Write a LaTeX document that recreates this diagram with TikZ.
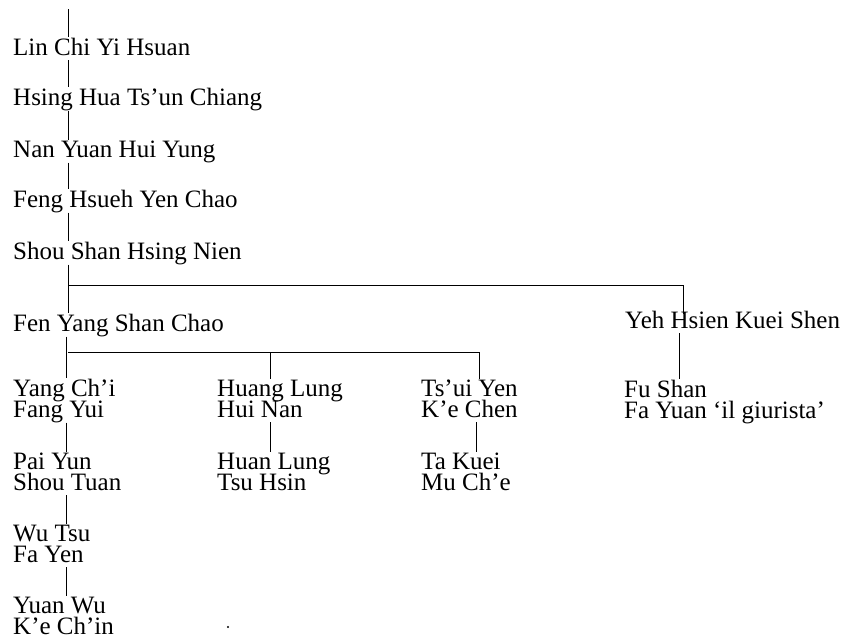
\documentclass[tikz,border=0pt]{standalone}
\usepackage{fontspec}
\setmainfont{Liberation Serif}
\newcommand\rowtext[1]{\hbox{\vrule width0pt height15.5pt depth5pt\relax #1}}
\newcommand\twolines[2]{\vtop{\baselineskip=21pt\lineskiplimit=-100pt\rowtext{#1}\rowtext{#2}}}
\begin{document}
\begin{tikzpicture}[x=1pt,y=-1pt,
  lbl/.style={anchor=base west, inner sep=0pt, font=\fontsize{25}{21}\selectfont},
  conn/.style={line width=0.9pt, black}]
\useasboundingbox (0,0) rectangle (847,640);
% names
\node[lbl] (lin)   at (13,55)  {\rowtext{Lin Chi Yi Hsuan}};
\node[lbl] (hsing) at (13,105) {\rowtext{Hsing Hua Ts’un Chiang}};
\node[lbl] (nan)   at (13,157) {\rowtext{Nan Yuan Hui Yung}};
\node[lbl] (feng)  at (13,207) {\rowtext{Feng Hsueh Yen Chao}};
\node[lbl] (shou)  at (13,259) {\rowtext{Shou Shan Hsing Nien}};
\node[lbl] (fen)   at (13,331) {\rowtext{Fen Yang Shan Chao}};
\node[lbl] (yeh)   at (625,328) {\rowtext{Yeh Hsien Kuei Shen}};
\node[lbl] (yang)  at (13,396)  {\twolines{Yang Ch’i}{Fang Yui}};
\node[lbl] (huang) at (217,396) {\twolines{Huang Lung}{Hui Nan}};
\node[lbl] (tsui)  at (421,396) {\twolines{Ts’ui Yen}{K’e Chen}};
\node[lbl] (fu)    at (624,397) {\twolines{Fu Shan}{Fa Yuan ‘il giurista’}};
\node[lbl] (pai)   at (13,469)  {\twolines{Pai Yun}{Shou Tuan}};
\node[lbl] (huan)  at (217,469) {\twolines{Huan Lung}{Tsu Hsin}};
\node[lbl] (ta)    at (421,469) {\twolines{Ta Kuei}{Mu Ch’e}};
\node[lbl] (wu)    at (13,541)  {\twolines{Wu Tsu}{Fa Yen}};
\node[lbl] (yuan)  at (13,613)  {\twolines{Yuan Wu}{K’e Ch’in}};
% connector columns
\coordinate (tA) at (68,0);
\coordinate (tB) at (66,0);
\coordinate (tC) at (270,0);
\coordinate (tD) at (476,0);
\coordinate (tE) at (479,0);
\coordinate (tF) at (683,0);
\coordinate (tG) at (679,0);
\coordinate (top) at (68,9);
\coordinate (b1) at (68,285);
\coordinate (b2) at (68,352);
% connectors
\draw[conn] (top) -- (lin.north -| tA);
\draw[conn] (lin.south -| tA) -- (hsing.north -| tA);
\draw[conn] (hsing.south -| tA) -- (nan.north -| tA);
\draw[conn] (nan.south -| tA) -- (feng.north -| tA);
\draw[conn] (feng.south -| tA) -- (shou.north -| tA);
\draw[conn] (shou.south -| tA) -- (fen.north -| tA);
\draw[conn] (b1) -| ([yshift=-4pt]yeh.north -| tF);
\draw[conn] (yeh.south -| tG) -- (fu.north -| tG);
\draw[conn] (fen.south -| tB) -- (yang.north -| tB);
\draw[conn] (b2) -| (tsui.north -| tE);
\draw[conn] (b2 -| tC) -- (huang.north -| tC);
\draw[conn] (yang.south -| tB) -- (pai.north -| tB);
\draw[conn] (pai.south -| tB) -- (wu.north -| tB);
\draw[conn] (wu.south -| tB) -- (yuan.north -| tB);
\draw[conn] (huang.south -| tC) -- (huan.north -| tC);
\draw[conn] (tsui.south -| tD) -- (ta.north -| tD);
\fill (228,627) circle (1.2pt);
\end{tikzpicture}
\end{document}
